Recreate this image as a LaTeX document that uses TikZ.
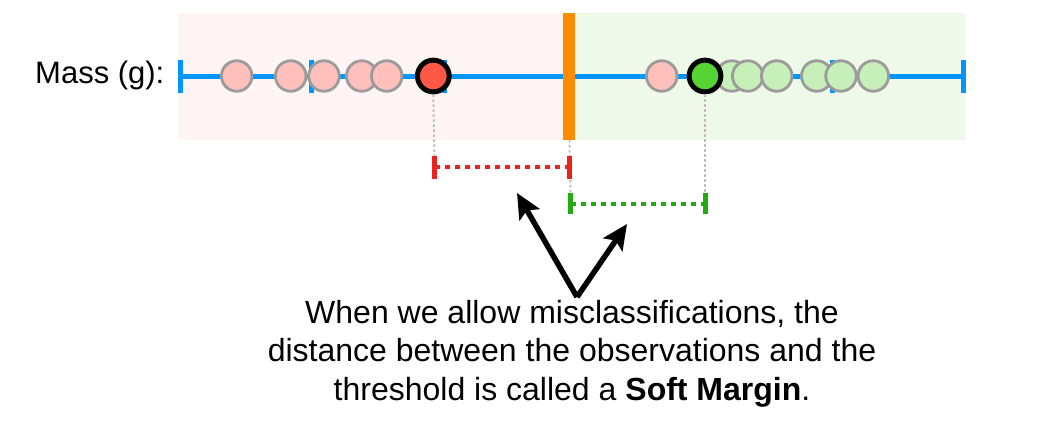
\documentclass[tikz,border=0pt]{standalone}
\usepackage{fontspec}
\setmainfont{Liberation Sans}
\usetikzlibrary{arrows.meta}
\definecolor{pinkbg}{RGB}{255,244,244}
\definecolor{greenbg}{RGB}{239,249,234}
\definecolor{axisblue}{RGB}{0,150,255}
\definecolor{throrange}{RGB}{255,140,0}
\definecolor{pinkpt}{RGB}{255,192,187}
\definecolor{greenpt}{RGB}{198,239,186}
\definecolor{redpt}{RGB}{255,88,70}
\definecolor{greenbig}{RGB}{85,212,51}
\definecolor{ptgray}{RGB}{155,155,155}
\definecolor{guidegray}{RGB}{190,190,190}
\definecolor{marginred}{RGB}{232,36,28}
\definecolor{margingreen}{RGB}{34,170,17}
\tikzset{
  pt/.style={circle, draw=ptgray, line width=2.8pt, minimum size=30.5pt, inner sep=0pt},
  pinkdot/.style={pt, fill=pinkpt},
  greendot/.style={pt, fill=greenpt},
  bigdot/.style={circle, draw=black, line width=5pt, minimum size=31.7pt, inner sep=0pt},
  axistick/.style={draw=axisblue, line width=5pt},
  guide/.style={draw=guidegray, line width=2pt, dash pattern=on 2.5pt off 2.5pt},
  marginline/.style={line width=4.5pt, dash pattern=on 5pt off 5pt},
  marginend/.style={line width=5pt},
  callout/.style={draw=black, line width=5.5pt, -{Stealth[length=25pt,width=23pt,inset=5pt]}},
  lbl/.style={font=\fontsize{31}{39}\selectfont, text=black},
  captiontext/.style={font=\fontsize{32}{38.5}\selectfont, text=black}
}
\begin{document}
\begin{tikzpicture}[x=1pt,y=-1pt]
\useasboundingbox (0,0) rectangle (1038,431);
% backgrounds
\fill[pinkbg] (178,13) rectangle (566,140);
\fill[greenbg] (572,13) rectangle (965,140);
% axis
\node[lbl, anchor=base west, inner sep=0pt] (masslabel) at (35,83.3) {Mass (g):};
\coordinate (axL) at (180,76);
\coordinate (axR) at (964,76);
\draw[draw=axisblue, line width=5pt] (axL) -- (axR);
\draw[axistick] (180.5,60) -- (180.5,93);
\draw[axistick] (963.5,60) -- (963.5,93);
\draw[axistick] (311,60) -- (311,93);
\draw[axistick] (444,60) -- (444,93);
\draw[axistick] (832,60) -- (832,93);
% left points
\node[pinkdot] (p1) at (236.7,76) {};
\node[pinkdot] (p2) at (290.7,76) {};
\node[pinkdot] (p3) at (324,76) {};
\node[pinkdot] (p4) at (361.7,76) {};
\node[pinkdot] (p5) at (386.7,76) {};
\node[bigdot, fill=redpt] (rsv) at (433.3,76) {};
% right points
\node[pinkdot] (p6) at (661.7,76) {};
\node[greendot] (g1) at (731.7,76) {};
\node[greendot] (g2) at (747.7,76) {};
\node[greendot] (g3) at (776.7,76) {};
\node[greendot] (g4) at (816.7,76) {};
\node[greendot] (g5) at (841,76) {};
\node[greendot] (g6) at (873.3,76) {};
\node[bigdot, fill=greenbig] (gsv) at (705,76) {};
% threshold
\fill[throrange] (563,13) rectangle (575,140);
\coordinate (thrbot) at (569.5,140);
% margin intervals
\coordinate (rL) at (435,167);
\coordinate (rR) at (569,167);
\coordinate (gL) at (571,203.8);
\coordinate (gR) at (704,203.8);
% guides
\draw[guide] (rsv.south) -- (434.5,156);
\draw[guide] (thrbot) -- (570.5,193);
\draw[guide] (gsv.south) -- (705,193);
\draw[marginred, marginline] (rL) -- (rR);
\draw[marginred, marginend] (434.8,156) -- (434.8,179);
\draw[marginred, marginend] (569,156) -- (569,179);
\draw[margingreen, marginline] (gL) -- (gR);
\draw[margingreen, marginend] (570.5,193) -- (570.5,214);
\draw[margingreen, marginend] (705,193) -- (705,214);
% callout arrows
\coordinate (apex) at (577,297);
\coordinate (tipA) at (517,193);
\coordinate (tipB) at (627,224);
\draw[callout] (apex) -- (tipA);
\draw[callout] (apex) -- (tipB);
% caption
\node[captiontext, align=center, anchor=base, inner sep=0pt] (caption) at (572,400)
  {When we allow misclassifications, the\\distance between the observations and the\\threshold is called a \textbf{Soft Margin}.};
\end{tikzpicture}
\end{document}
